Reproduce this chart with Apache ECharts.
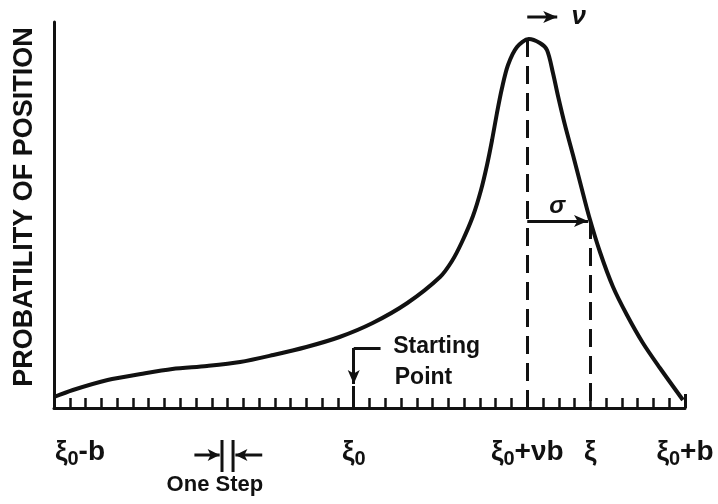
<!DOCTYPE html>
<html>
<head>
<meta charset="utf-8">
<script src="https://cdn.jsdelivr.net/npm/echarts@6/dist/echarts.min.js"></script>
<style>html,body{margin:0;padding:0;background:#fff}#c{width:718px;height:504px}</style>
</head>
<body>
<div id="c"></div>
<script>
// Position along the axis, in steps (0 = ξ0-b, 40 = ξ0+b)
const curveX = [0, 1.2, 3.4, 5.5, 7.5, 9.7, 11.8, 13.9, 16.0, 18.1, 20.2, 22.4, 24.47, 25.23, 25.86, 26.56, 27.07, 27.45, 27.77, 28.08, 28.4, 28.78, 29.35, 30.1, 30.8, 31.25, 31.63, 31.95, 32.39, 32.9, 33.41, 33.91, 34.61, 35.44, 36.32, 37.33, 38.41, 39.87];
// Probability of position (arbitrary units)
const curveY = [11, 18, 28, 34, 39, 42, 46, 53, 61, 71, 85, 105, 131, 147, 166, 192, 218, 243, 268, 295, 320, 343, 361, 369, 365, 358, 335, 312, 283, 253, 222, 192, 156, 121, 93, 65, 40, 8];

const tickValues = [0, 19, 30, 34, 40];
const tickLabels = ['{sp| }{m|ξ}{s|0}{m|-b}', '{m|ξ}{s|0}', '{m|ξ}{s|0}{m|+νb}', '{m|ξ}', '{m|ξ}{s|0}{m|+b}'];
const startPos = 19;   // ξ0
const peakPos = 30;    // ξ0 + νb
const sigmaPos = 34;   // ξ
const sigmaLevel = 187;
const yTitle = 'PROBATILITY OF POSITION';

const chart = echarts.init(document.getElementById('c'));
const black = '#111';

// free-standing segment drawn as an unclipped line series (may lie outside the grid)
function segment(a, b, arrowRot, size) {
  const end = arrowRot === undefined
    ? {value: b, symbol: 'none'}
    : {value: b, symbol: 'arrow', symbolRotate: arrowRot, symbolSize: size || [9, 13]};
  return {
    type: 'line', clip: false, silent: true, showSymbol: true, showAllSymbol: true,
    data: [{value: a, symbol: 'none'}, end],
    lineStyle: {color: black, width: 3},
    itemStyle: {color: black, borderWidth: 0},
    z: 3
  };
}

chart.setOption({
  animation: false,
  backgroundColor: '#fff',
  grid: {left: 54, right: 33, top: 22, bottom: 96},
  xAxis: {
    type: 'value', min: 0, max: 40, interval: 1,
    axisLine: {show: true, lineStyle: {color: black, width: 3}},
    axisTick: {show: true, inside: true, length: 10, lineStyle: {color: black, width: 2.5}},
    splitLine: {show: false},
    axisLabel: {
      customValues: tickValues,
      margin: 29,
      formatter: v => tickLabels[tickValues.indexOf(v)] || '',
      rich: {
        sp: {width: 52, fontSize: 10},
        m: {fontFamily: 'Liberation Sans', fontWeight: 'bold', fontSize: 28, color: black, lineHeight: 30},
        s: {fontFamily: 'Liberation Sans', fontWeight: 'bold', fontSize: 20, color: black, padding: [14, 0, 0, 0], lineHeight: 30}
      }
    }
  },
  yAxis: {
    type: 'value', min: 0, max: 386,
    axisLine: {show: true, lineStyle: {color: black, width: 3}},
    axisTick: {show: false}, axisLabel: {show: false}, splitLine: {show: false},
    name: yTitle, nameLocation: 'middle', nameRotate: 90, nameGap: 16,
    nameTextStyle: {fontFamily: 'Liberation Sans', fontWeight: 'bold', fontSize: 27, color: black, padding: [0, 0, 0, 16]}
  },
  series: [
    {
      type: 'line', smooth: 0.3, symbol: 'none', clip: false,
      data: curveX.map((x, i) => [x, curveY[i]]),
      lineStyle: {color: black, width: 4},
      markLine: {
        silent: true, symbol: ['none', 'none'],
        label: {show: false},
        lineStyle: {color: black, width: 3, type: 'solid'},
        data: [
          [{coord: [peakPos, 369], lineStyle: {type: [18, 9], width: 3}}, {coord: [peakPos, 0]}],
          [{coord: [sigmaPos, sigmaLevel], lineStyle: {type: [18, 9], width: 3}}, {coord: [sigmaPos, 0]}],
          [{coord: [peakPos, sigmaLevel], symbol: 'none'}, {coord: [sigmaPos - 0.15, sigmaLevel], symbol: 'arrow', symbolSize: [9, 14]}],
          [{coord: [startPos + 1.7, 60]}, {coord: [startPos, 60]}],
          [{coord: [startPos, 60], symbol: 'none'}, {coord: [startPos, 24], symbol: 'arrow', symbolSize: [9, 14]}],
          [{coord: [startPos, 22]}, {coord: [startPos, 0]}],
          [{coord: [40, 14]}, {coord: [40, 0]}]
        ]
      }
    },
    segment([peakPos, 391], [31.9, 391], -90, [9, 14]),
    segment([10.65, -32], [10.65, -64]),
    segment([11.35, -32], [11.35, -64]),
    segment([8.9, -47], [10.5, -47], -90, [9, 12]),
    segment([13.2, -47], [11.5, -47], 90, [9, 12]),
    {
      type: 'scatter', symbolSize: 0, clip: false, silent: true,
      itemStyle: {color: black, opacity: 1},
      data: [
        {value: [32.8, 391], label: {formatter: 'ν', fontStyle: 'italic', fontSize: 26, align: 'left'}},
        {value: [31.9, 202], label: {formatter: 'σ', fontStyle: 'italic', fontSize: 24, align: 'center'}},
        {value: [21.5, 61], label: {formatter: 'Starting', fontSize: 23, align: 'left'}},
        {value: [21.6, 30], label: {formatter: 'Point', fontSize: 23, align: 'left'}},
        {value: [10.2, -77], label: {formatter: 'One Step', fontSize: 22, align: 'center'}}
      ],
      label: {show: true, position: [0, 0], verticalAlign: 'middle', color: black,
        textBorderWidth: 0, fontFamily: 'Liberation Sans', fontWeight: 'bold'}
    }
  ]
});
</script>
</body>
</html>
